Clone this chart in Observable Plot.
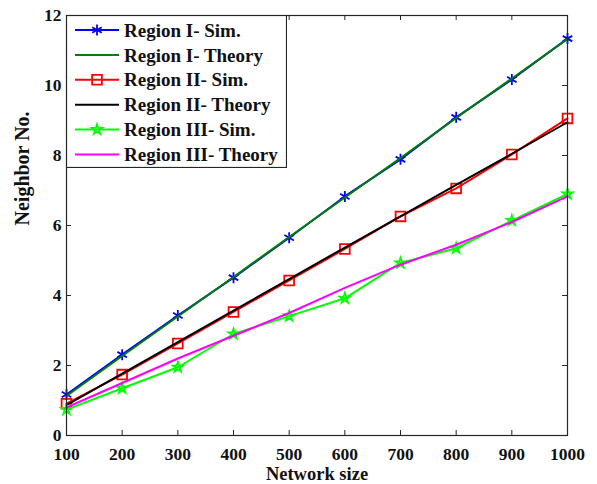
<!DOCTYPE html>
<html>
<head>
<meta charset="utf-8">
<script src="https://cdn.jsdelivr.net/npm/d3@7"></script>
<script src="https://cdn.jsdelivr.net/npm/@observablehq/plot@0.6"></script>
<style>
  html, body { margin: 0; padding: 0; background: #fff; }
  #wrap { position: relative; width: 597px; height: 484px; }
  #legend { position: absolute; left: 66px; top: 15px; }
</style>
</head>
<body>
<div id="wrap"></div>
<script>
const sizes = [100, 200, 300, 400, 500, 600, 700, 800, 900, 1000];
const region1Sim = [1.17, 2.31, 3.43, 4.51, 5.65, 6.83, 7.89, 9.09, 10.17, 11.34];
const region1Theory = [1.13, 2.27, 3.40, 4.53, 5.67, 6.80, 7.93, 9.07, 10.20, 11.33];
const region2Sim = [0.91, 1.74, 2.63, 3.53, 4.43, 5.33, 6.26, 7.06, 8.03, 9.06];
const region2Theory = [0.87, 1.77, 2.67, 3.57, 4.47, 5.37, 6.26, 7.16, 8.05, 8.95];
const region3Sim = [0.74, 1.35, 1.95, 2.90, 3.41, 3.92, 4.93, 5.35, 6.14, 6.90];
const region3Theory = [0.80, 1.50, 2.20, 2.85, 3.50, 4.22, 4.88, 5.45, 6.10, 6.83];
const xTicks = [100, 200, 300, 400, 500, 600, 700, 800, 900, 1000];
const yTicks = [0, 2, 4, 6, 8, 10, 12];

const seriesNames = ["Region I- Sim.", "Region I- Theory", "Region II- Sim.", "Region II- Theory", "Region III- Sim.", "Region III- Theory"];
const seriesColors = ["#0000ff", "#008000", "#ff0000", "#000000", "#00ff00", "#ff00ff"];
const seriesSymbols = ["asterisk", null, "square", null, "star", null];
const seriesValues = [region1Sim, region1Theory, region2Sim, region2Theory, region3Sim, region3Theory];
const symbolR = {asterisk: 5.2, square: 5.5, star: 3.2};

const W = 597, H = 484;
const mL = 66, mR = 30, mT = 15, mB = 49;
const plotW = W - mL - mR, plotH = H - mT - mB;
const font = "'Liberation Serif', 'Times New Roman', serif";
const tick = 5;

const marks = [];
seriesValues.forEach((vals, i) => {
  const data = sizes.map((s, j) => ({x: s, y: vals[j]}));
  marks.push(Plot.line(data, {x: "x", y: "y", stroke: seriesColors[i], strokeWidth: 2}));
  if (seriesSymbols[i]) {
    marks.push(Plot.dot(data, {x: "x", y: "y", stroke: seriesColors[i], fill: "none",
      symbol: seriesSymbols[i], r: symbolR[seriesSymbols[i]], strokeWidth: 1.8}));
  }
});

const chart = Plot.plot({
  width: W, height: H,
  marginLeft: mL, marginRight: mR, marginTop: mT, marginBottom: mB,
  style: {fontFamily: font, fontWeight: "bold", fontSize: "18px", background: "#fff", overflow: "visible"},
  x: {domain: [100, 1000]},
  y: {domain: [0, 12]},
  marks: [
    ...marks,
    Plot.frame({stroke: "#262626", strokeWidth: 1.2}),
    Plot.ruleX(xTicks, {x: d => d, insetTop: plotH - tick, stroke: "#262626"}),
    Plot.ruleX(xTicks, {x: d => d, insetBottom: plotH - tick, stroke: "#262626"}),
    Plot.ruleY(yTicks, {y: d => d, insetRight: plotW - tick, stroke: "#262626"}),
    Plot.ruleY(yTicks, {y: d => d, insetLeft: plotW - tick, stroke: "#262626"}),
    Plot.axisX(xTicks, {tickSize: 0, tickPadding: 12.5, label: null, fontSize: 17.5, fill: "#111", tickFormat: d3.format("d")}),
    Plot.axisY(yTicks, {tickSize: 0, tickPadding: 5, label: null, fontSize: 17.5, fill: "#111", tickFormat: d3.format("d")}),
    Plot.text(["Network size"], {frameAnchor: "bottom", dy: 39, lineAnchor: "middle", fontSize: 18.5, fill: "#111", letterSpacing: 2.5}),
    Plot.text(["Neighbor No."], {frameAnchor: "left", dx: -44, rotate: -90, lineAnchor: "middle", fontSize: 20, fill: "#111", letterSpacing: 1.2})
  ]
});
document.getElementById("wrap").appendChild(chart);

// Legend overlay inside the plot frame
const lgW = 221, lgH = 153, rowH = 24.9, row0 = 15;
const lg = d3.select("#wrap").append("svg").attr("id", "legend")
  .attr("width", lgW).attr("height", lgH)
  .style("font-family", font).style("font-weight", "bold").style("font-size", "19px");
lg.append("rect").attr("x", 0.5).attr("y", 0.5).attr("width", lgW - 1).attr("height", lgH - 1)
  .attr("fill", "#fff").attr("stroke", "#262626").attr("stroke-width", 1.2);
const symMap = {asterisk: d3.symbolAsterisk, square: d3.symbolSquare, star: d3.symbolStar};
seriesNames.forEach((name, i) => {
  const cy = row0 + i * rowH;
  lg.append("line").attr("x1", 9).attr("x2", 53).attr("y1", cy).attr("y2", cy)
    .attr("stroke", seriesColors[i]).attr("stroke-width", 2);
  if (seriesSymbols[i]) {
    const r = symbolR[seriesSymbols[i]];
    lg.append("path").attr("d", d3.symbol(symMap[seriesSymbols[i]], Math.PI * r * r)())
      .attr("transform", `translate(31,${cy})`).attr("fill", "none")
      .attr("stroke", seriesColors[i]).attr("stroke-width", 1.8);
  }
  lg.append("text").attr("x", 58).attr("y", cy).attr("dy", "0.35em").attr("fill", "#111").text(name);
});
</script>
</body>
</html>
